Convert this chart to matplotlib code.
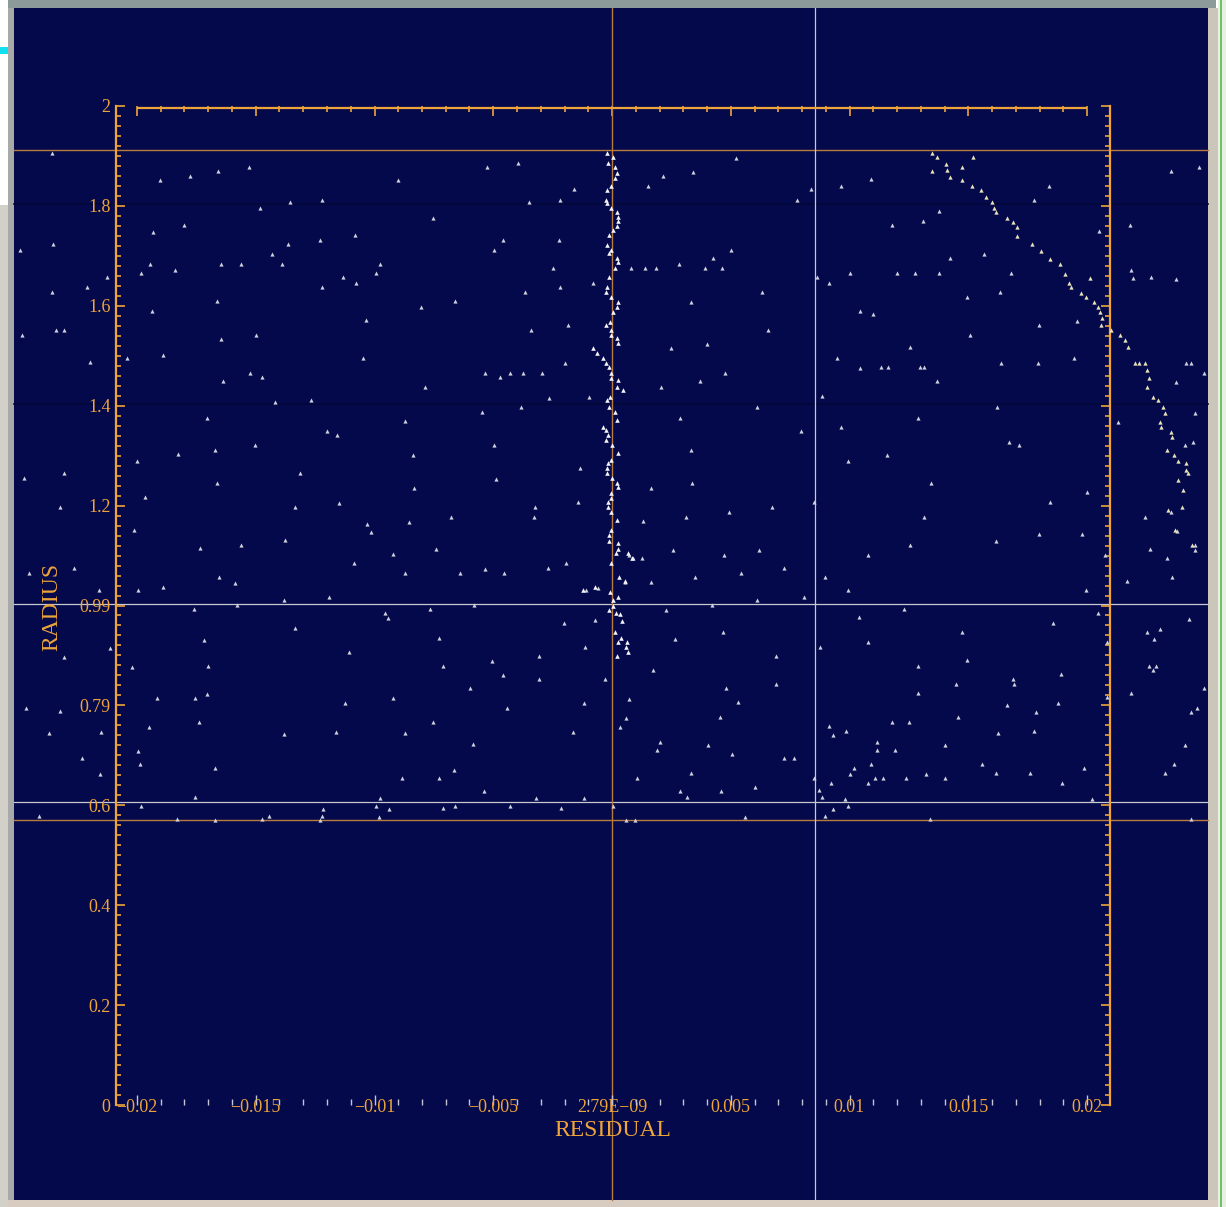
import matplotlib
matplotlib.use("Agg")
import matplotlib.pyplot as plt
from matplotlib.patches import Rectangle
from matplotlib.ticker import MultipleLocator, FixedLocator

plt.rcParams['font.family'] = ['Liberation Serif', 'DejaVu Serif']

# ---------------- data (residual in units of 1e-3, radius) ----------------
RES_UNIT = 1e-3

x_ticks = [-0.02, -0.015, -0.01, -0.005, 0.0, 0.005, 0.01, 0.015, 0.02]
x_tick_labels = ["\u22120.02", "\u22120.015", "\u22120.01", "\u22120.005", "2.79E\u221209",
                 "0.005", "0.01", "0.015", "0.02"]
y_ticks = [0, 0.2, 0.4, 0.6, 0.8, 1.0, 1.2, 1.4, 1.6, 1.8, 2.0]
y_tick_labels = ["0", "0.2", "0.4", "0.6", "0.79", "0.99", "1.2", "1.4", "1.6", "1.8", "2"]

scatter_res = [
    -23.58, -19.03, -17.77, -16.59, -15.28, -9.01, -5.26, -3.96, -14.82, -13.56,
    -12.21, -3.49, -2.19, -1.60, -23.54, -24.93, -18.02, -19.33, -13.64, -14.32,
    -12.29, -10.82, -7.54, -19.45, -19.83, -18.40, -16.46, -15.62, -13.89, -21.26,
    -22.11, -23.58, -12.21, -11.33, -10.78, -9.94, -9.77, -4.97, -4.59, -2.23,
    -2.48, -2.19, -0.80, -3.66, -16.63, -6.61, -8.04, -19.37, -10.36, -1.85,
    -3.41, -23.41, -23.07, -24.84, -14.99, -16.46, -18.91, -20.42, -21.98, -10.48,
    -1.98, -15.24, -14.74, -16.38, -5.35, -4.72, -4.29, -3.75, -2.95, -7.87,
    -0.97, -12.67, -14.19, -2.65, -17.05, -8.72, -5.47, -3.83, -12.00, -11.58,
    -15.03, -4.97, -16.72, -18.27, -20.00, -8.38, -23.07, -13.14, -1.35, -24.76,
    5.22, 3.41, 2.15, 1.52, 10.91, 9.64, 8.38, 7.79, 18.40, 17.77,
    23.54, 24.72, 13.77, 11.79, 13.09, 21.81, 20.51, 5.01, 4.25, 2.82,
    0.80, 1.39, 1.85, 3.92, 4.63, 14.23, 15.66, 10.02, 12.00, 12.76,
    13.77, 16.80, 8.63, 9.14, 21.85, 21.94, 22.69, 23.75, 6.32, 3.33,
    14.95, 16.34, 10.44, 10.99, 17.98, 19.58, 6.57, 4.00, 2.48, 15.07,
    12.55, 9.47, 10.44, 11.33, 11.62, 12.97, 13.14, 16.38, 17.94, 19.45,
    24.17, 24.38, 24.93, 23.75, 4.76, 3.71, 2.06, 13.68, 8.84, 6.11,
    2.86, 7.96, 3.33, 12.88, 9.64, 16.21, 21.31, 24.55, 16.72, 17.14,
    11.58, 9.94, 24.13, 24.46,
    -23.24, -19.66, -20.13, -24.55, -22.65, -21.60, -19.96, -18.91, -17.35, -16.63,
    -15.62, -16.55, -15.87, -13.81, -13.35, -13.77, -11.49, -10.32, -10.15, -10.86,
    -9.22, -8.72, -8.55, -8.34, -7.41, -6.78, -6.40, -5.35, -4.55, -4.88,
    -3.24, -3.28, -2.69, -1.94, -1.43, -1.09, -0.59, -15.79, -17.60, -11.92,
    -7.66, -5.81, -9.56, -9.43, -13.35, -2.02, -0.72, -17.18, -7.28, -21.14,
    -23.07, -11.07, -1.14, -3.07, -20.21, -17.01, -7.12, -5.05, -4.59, -3.07,
    -0.29, -5.98, -19.16, -17.56, -17.05, -11.24, -9.22, -4.42, -1.18, -24.67,
    -23.24, -17.39, -19.49, -21.52, -23.71, -13.81, -11.62, -8.72, -7.54, -1.64,
    -5.85, -19.96, -19.87, -22.32, -16.72, -6.65, -7.28, -8.84, -21.56, -5.39,
    -3.20, -1.18, -17.56, -9.77, -19.83, -12.17, -9.94, -9.39, -7.12, -6.61,
    -4.29, -2.15, 0.04, -24.13, -18.32, -16.72, -14.74, -14.44, -12.21, -9.81,
    -12.29,
    1.64, 3.37, 13.43, 20.00, 18.44, 8.51, 6.74, 4.93, 3.12, 1.31,
    13.14, 22.44, 23.54, 23.79, 17.98, 19.79, 16.17, 12.55, 10.78, 6.19,
    2.57, 0.72, 0.88, 1.26, 4.72, 22.65, 23.37, 24.55, 24.55, 20.76,
    5.43, 7.24, 3.49, 8.97, 0.55, 1.64, 21.68, 23.58, 9.94, 19.96,
    6.11, 8.08, 4.21, 2.27, 12.29, 10.40, 20.46, 18.57, 24.29, 4.67,
    2.65, 14.74, 10.78, 8.76, 20.84, 22.53, 23.07, 22.82, 6.91, 14.95,
    1.73, 12.88, 18.91, 22.61, 22.91, 22.78, 4.80, 6.91, 14.48, 16.88,
    16.93, 12.88, 20.84, 21.85, 24.93, 0.72, 5.31, 16.63, 18.78, 17.85,
    24.38, 24.63, 0.59, 4.55, 14.57, 11.79, 12.51, 0.34, 9.14, 9.85,
    9.31, 17.77, 16.25, 24.13, 2.02, 1.89, 4.04, 11.16, 11.16, 11.92,
    14.02, 5.05, 7.24, 7.66, 15.58, 23.66, 23.28, 10.19, 10.91, 3.33,
    10.02, 13.22, 16.17, 17.60, 19.87, 1.05, 8.51, 11.07, 11.41, 12.38,
    14.02, 10.78, 18.95, 9.22, 2.86, 4.59, 3.16, 6.02, 8.72, 8.84,
    9.81, 20.21, 9.31, 9.94, 8.97, 0.59, 0.97, 5.60, 13.39, 24.38,
]
scatter_rad = [
    1.906, 1.852, 1.860, 1.870, 1.878, 1.852, 1.878, 1.886, 1.796, 1.808,
    1.812, 1.808, 1.812, 1.834, 1.724, 1.712, 1.762, 1.748, 1.724, 1.704,
    1.732, 1.742, 1.776, 1.684, 1.666, 1.672, 1.684, 1.684, 1.684, 1.658,
    1.638, 1.628, 1.638, 1.658, 1.646, 1.666, 1.684, 1.712, 1.732, 1.732,
    1.676, 1.638, 1.646, 1.628, 1.610, 1.610, 1.598, 1.590, 1.572, 1.562,
    1.552, 1.552, 1.552, 1.542, 1.542, 1.534, 1.502, 1.496, 1.488, 1.496,
    1.486, 1.465, 1.457, 1.449, 1.465, 1.457, 1.465, 1.465, 1.465, 1.437,
    1.417, 1.411, 1.407, 1.415, 1.375, 1.369, 1.387, 1.397, 1.349, 1.341,
    1.321, 1.321, 1.311, 1.303, 1.289, 1.301, 1.265, 1.265, 1.275, 1.255,
    1.896, 1.868, 1.860, 1.840, 1.854, 1.840, 1.834, 1.812, 1.840, 1.812,
    1.870, 1.878, 1.790, 1.762, 1.770, 1.762, 1.750, 1.712, 1.696, 1.684,
    1.676, 1.676, 1.676, 1.676, 1.676, 1.696, 1.704, 1.666, 1.666, 1.666,
    1.666, 1.666, 1.658, 1.646, 1.672, 1.656, 1.658, 1.654, 1.628, 1.608,
    1.618, 1.628, 1.590, 1.584, 1.562, 1.570, 1.552, 1.524, 1.516, 1.542,
    1.518, 1.496, 1.476, 1.478, 1.478, 1.478, 1.478, 1.486, 1.486, 1.496,
    1.486, 1.486, 1.465, 1.447, 1.465, 1.449, 1.437, 1.449, 1.419, 1.397,
    1.375, 1.349, 1.311, 1.375, 1.357, 1.397, 1.367, 1.385, 1.327, 1.321,
    1.301, 1.289, 1.321, 1.327,
    1.197, 1.217, 1.151, 1.065, 1.075, 1.031, 1.031, 1.037, 1.115, 1.245,
    1.121, 1.057, 1.045, 1.011, 1.197, 1.131, 1.205, 1.163, 1.147, 1.085,
    1.103, 1.065, 1.167, 1.235, 1.113, 1.177, 1.065, 1.073, 1.065, 1.253,
    1.197, 1.177, 1.075, 1.085, 1.207, 1.031, 1.035, 1.001, 0.993, 1.017,
    0.993, 1.001, 0.985, 0.975, 0.955, 0.965, 0.971, 0.931, 0.935, 0.915,
    0.897, 0.907, 0.917, 0.899, 0.877, 0.879, 0.879, 0.889, 0.861, 0.853,
    0.853, 0.835, 0.815, 0.815, 0.823, 0.805, 0.815, 0.795, 0.805, 0.795,
    0.789, 0.767, 0.757, 0.747, 0.745, 0.743, 0.747, 0.745, 0.767, 0.747,
    0.723, 0.709, 0.683, 0.695, 0.675, 0.671, 0.655, 0.655, 0.663, 0.629,
    0.615, 0.615, 0.617, 0.615, 0.599, 0.593, 0.599, 0.593, 0.595, 0.599,
    0.599, 0.595, 0.599, 0.579, 0.573, 0.571, 0.573, 0.579, 0.579, 0.577,
    0.571,
    1.235, 1.245, 1.245, 1.227, 1.207, 1.207, 1.197, 1.187, 1.177, 1.169,
    1.177, 1.177, 1.187, 1.149, 1.143, 1.143, 1.129, 1.121, 1.101, 1.111,
    1.111, 1.101, 1.095, 1.095, 1.101, 1.113, 1.095, 1.121, 1.111, 1.101,
    1.065, 1.075, 1.057, 1.057, 1.047, 1.047, 1.049, 1.057, 1.031, 1.031,
    1.011, 1.017, 1.001, 0.991, 0.993, 0.977, 0.985, 0.965, 0.973, 0.947,
    0.933, 0.947, 0.927, 0.917, 0.927, 0.947, 0.953, 0.933, 0.899, 0.891,
    0.871, 0.879, 0.863, 0.879, 0.879, 0.871, 0.835, 0.843, 0.843, 0.853,
    0.843, 0.825, 0.817, 0.825, 0.835, 0.813, 0.807, 0.801, 0.805, 0.787,
    0.787, 0.795, 0.775, 0.777, 0.777, 0.767, 0.767, 0.757, 0.759, 0.749,
    0.741, 0.749, 0.745, 0.721, 0.727, 0.711, 0.721, 0.727, 0.711, 0.711,
    0.721, 0.703, 0.695, 0.695, 0.683, 0.683, 0.665, 0.675, 0.683, 0.665,
    0.663, 0.663, 0.665, 0.665, 0.675, 0.655, 0.655, 0.655, 0.655, 0.655,
    0.655, 0.645, 0.645, 0.645, 0.629, 0.629, 0.617, 0.637, 0.631, 0.617,
    0.613, 0.613, 0.593, 0.599, 0.579, 0.571, 0.571, 0.577, 0.573, 0.573,
]

centre_res = [
    -0.21, 0.04, -0.17, 0.13, 0.21, 0.13, -0.04, -0.21, -0.25, -0.21,
    -0.04, 0.21, 0.25, 0.25, 0.21, 0.04, -0.13, -0.21, -0.04, -0.13,
    0.21, 0.25, 0.13, -0.13, -0.21, -0.25, -0.04, 0.25, 0.21, 0.04,
    -0.08, -0.25, -0.04, -0.04, 0.21, 0.25, -0.80, -0.63, -0.38, -0.25,
    -0.13, -0.04, -0.04, 0.25, 0.21, 0.46, -0.08, -0.21, -0.13, 0.13,
    0.21, -0.38, -0.25, -0.17, -0.25, 0.00, 0.25, -0.04, -0.17, -0.21,
    -0.21, 0.00, 0.21, 0.25, -0.04, -0.04, -0.17, -0.17, -0.04, 0.21,
    -0.04, -0.13, -0.13, 0.25, 0.25, 0.17, 0.67, 0.84, -0.04, 0.29,
    0.55, -0.72, -1.22, -0.08, 0.25, 0.04, 0.04, -0.13, 0.17, 0.34,
    0.42, 0.13, 0.25, 0.38, 0.59, 0.67, 0.21, 0.63,
]
centre_rad = [
    1.906, 1.898, 1.886, 1.878, 1.866, 1.856, 1.840, 1.832, 1.812, 1.806,
    1.796, 1.788, 1.778, 1.770, 1.760, 1.752, 1.742, 1.722, 1.712, 1.706,
    1.696, 1.688, 1.676, 1.658, 1.638, 1.628, 1.618, 1.608, 1.598, 1.588,
    1.568, 1.562, 1.552, 1.542, 1.536, 1.526, 1.516, 1.506, 1.496, 1.486,
    1.478, 1.465, 1.455, 1.451, 1.437, 1.431, 1.417, 1.411, 1.397, 1.387,
    1.371, 1.357, 1.351, 1.341, 1.331, 1.321, 1.305, 1.291, 1.285, 1.275,
    1.265, 1.255, 1.245, 1.237, 1.225, 1.215, 1.207, 1.197, 1.187, 1.171,
    1.151, 1.141, 1.129, 1.125, 1.113, 1.105, 1.105, 1.095, 1.085, 1.057,
    1.049, 1.037, 1.031, 1.027, 1.017, 1.011, 0.999, 0.991, 0.985, 0.983,
    0.969, 0.947, 0.927, 0.935, 0.917, 0.907, 0.899, 0.927,
]

edge_res = [
    13.47, 13.68, 14.06, 14.11, 13.47, 14.23, 14.74, 15.20, 14.74, 15.16,
    15.54, 15.75, 16.00, 16.08, 16.17, 16.63, 16.88, 17.05, 17.05, 17.68,
    18.06, 18.44, 18.86, 19.07, 19.24, 19.33, 20.13, 19.75, 19.96, 20.29,
    20.46, 20.55, 20.63, 20.59, 21.01, 21.39, 21.60, 21.73, 22.02, 22.19,
    22.44, 22.53, 22.61, 22.53, 22.78, 22.99, 23.20, 23.28, 23.07, 23.12,
    23.54, 23.58, 23.37, 23.66, 23.83, 24.17, 24.17, 24.25, 23.83, 24.04,
    24.00, 23.41, 23.71, 24.42,
]
edge_rad = [
    1.906, 1.898, 1.884, 1.872, 1.870, 1.858, 1.878, 1.898, 1.852, 1.840,
    1.832, 1.818, 1.808, 1.796, 1.788, 1.776, 1.768, 1.758, 1.740, 1.724,
    1.710, 1.694, 1.684, 1.664, 1.646, 1.638, 1.656, 1.626, 1.618, 1.608,
    1.598, 1.588, 1.576, 1.562, 1.552, 1.542, 1.532, 1.518, 1.486, 1.486,
    1.486, 1.471, 1.455, 1.437, 1.417, 1.411, 1.397, 1.385, 1.367, 1.357,
    1.347, 1.337, 1.311, 1.301, 1.289, 1.285, 1.271, 1.265, 1.251, 1.231,
    1.197, 1.191, 1.151, 1.121,
]

# reference lines
orange_hlines = [1.912, 0.571]
white_hlines = [1.003, 0.606]
dark_hlines = [1.804, 1.403]
orange_vline = 0.0
white_vline = 0.00855

# ---------------- styling ----------------
NAVY = '#03094a'
ORANGE = '#eea43a'
LINE_OR = '#b87a40'
PALE = '#c4c4d4'
W, H = 1226, 1207

fig = plt.figure(figsize=(W / 100, H / 100), dpi=100, facecolor='white')

def frect(x0, y0, x1, y1, color, z=-10):
    # pixel box (top-left origin) -> figure fraction
    fig.add_artist(Rectangle((x0 / W, 1 - y1 / H), (x1 - x0) / W, (y1 - y0) / H,
                             transform=fig.transFigure, color=color, zorder=z, lw=0))

frect(14, 8, 1208, 1200, NAVY)
frect(8, 0, 1216, 8, '#8c9a9a')
frect(8, 8, 14, 1200, '#a8aaa8')
frect(0, 205, 8, 1207, '#d2d0c8')
frect(0, 47, 8, 54, '#10e0f0')
frect(1208, 8, 1218, 1207, '#cac6ba')
frect(1218, 0, 1226, 1207, '#e8f0e0')
frect(1220, 0, 1222, 1207, '#70c070')
frect(8, 1200, 1218, 1207, '#d8ccc0')

L, R, T, B = 116, 1110, 106, 1105
ax = fig.add_axes([L / W, 1 - B / H, (R - L) / W, (B - T) / H])
ax.set_facecolor('none')
xmin = -0.02 - 21 / 23750
xmax = 0.02 + 23 / 23750
ax.set_xlim(xmin, xmax)
ax.set_ylim(0, 2)

# extents of the navy panel in axes fraction
ax_x0 = (14 - L) / (R - L)
ax_x1 = (1208 - L) / (R - L)
ax_y0 = (B - 1200) / (B - T)
ax_y1 = (B - 8) / (B - T)

for yv in dark_hlines:
    ax.axhline(yv, xmin=ax_x0, xmax=ax_x1, color='#020738', lw=1.2, clip_on=False, zorder=0.5)
for yv in orange_hlines:
    ax.axhline(yv, xmin=ax_x0, xmax=ax_x1, color=LINE_OR, lw=1.0, clip_on=False, zorder=1)
for yv in white_hlines:
    ax.axhline(yv, xmin=ax_x0, xmax=ax_x1, color='#c8c8d0', lw=0.9, clip_on=False, zorder=1)
ax.axvline(orange_vline, ymin=ax_y0, ymax=ax_y1, color=LINE_OR, lw=1.0, clip_on=False, zorder=1)
ax.axvline(white_vline, ymin=ax_y0, ymax=ax_y1, color='#c8c8d0', lw=0.9, clip_on=False, zorder=1)

sx = [v * RES_UNIT for v in scatter_res]
cx = [v * RES_UNIT for v in centre_res]
ex = [v * RES_UNIT for v in edge_res]
ax.plot(sx, scatter_rad, ls='none', marker='^', ms=3.0, mfc='#cfd0de', mec='none',
        clip_on=False, zorder=3)
ax.plot(cx, centre_rad, ls='none', marker='^', ms=3.3, mfc='#f4f4f8', mec='none',
        clip_on=False, zorder=3)
ax.plot(ex, edge_rad, ls='none', marker='^', ms=3.1, mfc='#e8e2b8', mec='none',
        clip_on=False, zorder=3)

# spines
for s in ['top', 'bottom']:
    ax.spines[s].set_visible(False)
for s in ['left', 'right']:
    ax.spines[s].set_color(ORANGE)
    ax.spines[s].set_linewidth(1.6)
ax.hlines(2.0 - 0.004, -0.02, 0.02, color=ORANGE, lw=1.6, clip_on=False, zorder=4)

# x axis (bottom)
ax.xaxis.set_major_locator(FixedLocator(x_ticks))
ax.set_xticklabels(x_tick_labels)
ax.xaxis.set_minor_locator(MultipleLocator(0.001))
ax.tick_params(axis='x', which='both', direction='in', bottom=True, top=False,
               color=PALE, labelcolor=ORANGE, labelsize=13, pad=-4, width=1.0)
ax.tick_params(axis='x', which='major', length=7.5)
ax.tick_params(axis='x', which='minor', length=4)

# top ticks
sec = ax.secondary_xaxis('top')
sec.xaxis.set_major_locator(FixedLocator(x_ticks))
sec.xaxis.set_minor_locator(MultipleLocator(0.001))
sec.tick_params(axis='x', which='both', direction='in', color=ORANGE, width=1.2,
                labeltop=False, labelbottom=False)
sec.tick_params(axis='x', which='major', length=7.5)
sec.tick_params(axis='x', which='minor', length=4.5)
sec.spines['top'].set_visible(False)

# y axis
ax.yaxis.set_major_locator(FixedLocator(y_ticks))
ax.set_yticklabels(y_tick_labels)
ax.yaxis.set_minor_locator(MultipleLocator(0.02))
ax.tick_params(axis='y', which='both', direction='in', left=True, right=True,
               color=ORANGE, labelcolor=ORANGE, labelsize=13, pad=4, width=1.2)
ax.tick_params(axis='y', which='major', length=6.5)
ax.tick_params(axis='y', which='minor', length=3.5)

ax.set_xlabel('RESIDUAL', color=ORANGE, fontsize=17)
ax.xaxis.label.set_va('center')
ax.xaxis.set_label_coords(0.5, (B - 1130) / (B - T))
ax.set_ylabel('RADIUS', color=ORANGE, fontsize=17)
ax.yaxis.label.set_va('center')
ax.yaxis.set_label_coords((52 - L) / (R - L), (B - 607) / (B - T))

fig.savefig('out.png', dpi=100, facecolor=fig.get_facecolor())
